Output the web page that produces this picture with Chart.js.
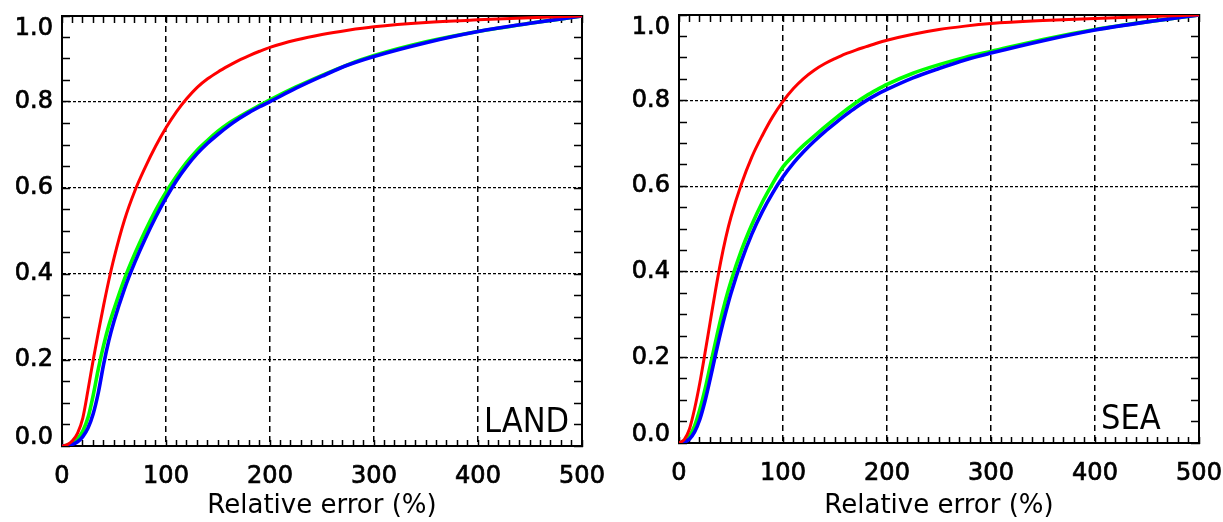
<!DOCTYPE html>
<html>
<head>
<meta charset="utf-8">
<script src="https://cdn.jsdelivr.net/npm/chart.js@4.4.1/dist/chart.umd.min.js"></script>
<style>
  html, body { margin: 0; padding: 0; background: #fff; }
  #wrap { position: relative; width: 1223px; height: 522px; }
  .panel { position: absolute; top: 0; height: 522px; }
  #land-box { left: 0; width: 611px; }
  #sea-box { left: 611px; width: 612px; }
</style>
</head>
<body>
<div id="wrap">
  <div class="panel" id="land-box"><canvas id="land-chart"></canvas></div>
  <div class="panel" id="sea-box"><canvas id="sea-chart"></canvas></div>
</div>
<script>
// relative error (%) sample points, shared by all curves
const relErr = [0, 5, 10, 15, 20, 25, 30, 35, 40, 45, 50, 60, 70, 80, 90, 100, 110, 120, 130, 140, 150, 160, 170, 180, 190, 200, 225, 250, 275, 300, 350, 400, 450, 500];

// LAND panel
const landRed   = [0, 0.003, 0.012, 0.03, 0.065, 0.13, 0.2, 0.265, 0.327, 0.385, 0.437, 0.525, 0.593, 0.648, 0.697, 0.74, 0.777, 0.808, 0.834, 0.854, 0.87, 0.884, 0.897, 0.908, 0.918, 0.927, 0.944, 0.957, 0.967, 0.975, 0.985, 0.991, 0.996, 1.0];
const landGreen = [0, 0.002, 0.007, 0.017, 0.035, 0.066, 0.118, 0.18, 0.234, 0.28, 0.318, 0.388, 0.447, 0.5, 0.548, 0.59, 0.627, 0.66, 0.688, 0.711, 0.732, 0.75, 0.765, 0.779, 0.792, 0.805, 0.835, 0.862, 0.887, 0.908, 0.94, 0.964, 0.983, 1.0];
const landBlue  = [0, 0.001, 0.004, 0.01, 0.022, 0.042, 0.075, 0.125, 0.19, 0.245, 0.29, 0.365, 0.427, 0.482, 0.532, 0.577, 0.617, 0.651, 0.68, 0.704, 0.725, 0.744, 0.761, 0.776, 0.789, 0.801, 0.832, 0.86, 0.886, 0.906, 0.938, 0.964, 0.983, 1.0];

// SEA panel
const seaRed   = [0, 0.008, 0.032, 0.08, 0.14, 0.21, 0.283, 0.355, 0.422, 0.48, 0.528, 0.605, 0.668, 0.718, 0.762, 0.798, 0.828, 0.852, 0.871, 0.886, 0.898, 0.909, 0.918, 0.926, 0.934, 0.941, 0.955, 0.966, 0.974, 0.98, 0.987, 0.992, 0.996, 1.0];
const seaGreen = [0, 0.004, 0.016, 0.04, 0.078, 0.125, 0.18, 0.235, 0.288, 0.336, 0.378, 0.45, 0.51, 0.562, 0.606, 0.645, 0.672, 0.696, 0.717, 0.738, 0.758, 0.777, 0.795, 0.811, 0.825, 0.838, 0.864, 0.884, 0.901, 0.915, 0.943, 0.966, 0.984, 1.0];
const seaBlue  = [0, 0.002, 0.009, 0.026, 0.055, 0.098, 0.15, 0.205, 0.258, 0.306, 0.35, 0.425, 0.488, 0.54, 0.584, 0.622, 0.654, 0.681, 0.705, 0.727, 0.747, 0.766, 0.784, 0.8, 0.814, 0.826, 0.853, 0.875, 0.895, 0.911, 0.94, 0.965, 0.984, 1.0];

const xTitle = "Relative error (%)";
const AXIS_FONT = "'DejaVu Sans', sans-serif";

function fixSize(size) {
    return (scale) => {
        if (scale.isHorizontal()) scale.height = size; else scale.width = size;
        scale.paddingLeft = scale.paddingRight = scale.paddingTop = scale.paddingBottom = 0;
    };
}

function minorAxis(axis, position, max, step, len) {
    return {
        type: "linear", axis: axis, position: position, min: 0, max: max, weight: 0,
        ticks: { display: false, stepSize: step },
        grid: { drawOnChartArea: false, drawTicks: true, tickLength: -len, tickColor: "#000", tickWidth: 1.5 },
        border: { display: true, color: "#000", width: 2 },
        afterFit: fixSize(0)
    };
}

function toPoints(values) {
    return values.map((v, i) => ({ x: relErr[i], y: v }));
}

const panelLabel = {
    id: "panelLabel",
    afterDraw(chart, args, opts) {
        const { ctx, chartArea } = chart;
        ctx.save();
        ctx.font = "34px 'DejaVu Sans Condensed', 'DejaVu Sans', sans-serif";
        ctx.fillStyle = "#000";
        ctx.textBaseline = "alphabetic";
        ctx.textAlign = "left";
        ctx.fillText(opts.text, chartArea.left + 422, chartArea.bottom - 14);
        ctx.restore();
    }
};

function makePanel(canvasId, label, red, green, blue, box) {
    const ctx = document.getElementById(canvasId).getContext("2d");
    return new Chart(ctx, {
        type: "line",
        data: {
            datasets: [
                { data: toPoints(red), borderColor: "#ff0000", borderWidth: 3 },
                { data: toPoints(blue), borderColor: "#0000ff", borderWidth: 3.6 },
                { data: toPoints(green), borderColor: "#00ff00", borderWidth: 3.6 }
            ]
        },
        options: {
            responsive: true,
            maintainAspectRatio: false,
            animation: false,
            layout: { padding: { top: box.top, right: box.right, left: 0, bottom: 0 } },
            elements: {
                point: { radius: 0 },
                line: { cubicInterpolationMode: "monotone", fill: false }
            },
            plugins: {
                legend: { display: false },
                tooltip: { enabled: false },
                panelLabel: { text: label }
            },
            scales: {
                x: {
                    type: "linear", position: "bottom", min: 0, max: 500, weight: 1,
                    ticks: {
                        stepSize: 100, padding: 16, color: "#000", maxRotation: 0,
                        textStrokeColor: "#000", textStrokeWidth: 0.7,
                        font: { family: AXIS_FONT, size: 24 }
                    },
                    grid: { drawTicks: false, color: "#000", lineWidth: 1.5 },
                    border: { display: true, color: "#000", width: 2, dash: [6, 4] },
                    title: { display: true, text: xTitle, color: "#000", font: { family: AXIS_FONT, size: 26 }, padding: { top: 0, bottom: 0 } },
                    afterFit: fixSize(box.xHeight)
                },
                y: {
                    type: "linear", position: "left", min: 0, max: 1, weight: 1,
                    ticks: {
                        stepSize: 0.2, padding: 9, color: "#000",
                        textStrokeColor: "#000", textStrokeWidth: 0.7,
                        callback: (v) => Math.abs(v - 1) < 1e-9 ? ["", "1.0"] : Math.abs(v) < 1e-9 ? ["0.0", ""] : v.toFixed(1),
                        font: (c) => {
                            const val = c.tick ? c.tick.value : 0.5;
                            let lh = 1.2;
                            if (Math.abs(val - 1) < 1e-9) lh = "26px";
                            if (Math.abs(val) < 1e-9) lh = "16px";
                            return { family: AXIS_FONT, size: 24, lineHeight: lh };
                        }
                    },
                    grid: { drawTicks: false, color: "#000", lineWidth: 1.3 },
                    border: { display: true, color: "#000", width: 2, dash: [3, 2] },
                    afterFit: fixSize(box.yWidth)
                },
                xBottomMinor: minorAxis("x", "bottom", 500, 10, 6),
                xTopMinor: minorAxis("x", "top", 500, 10, 7),
                yLeftMinor: minorAxis("y", "left", 1, 0.05, 8),
                yRightMinor: minorAxis("y", "right", 1, 0.05, 8)
            }
        },
        plugins: [panelLabel]
    });
}

makePanel("land-chart", "LAND", landRed, landGreen, landBlue, { top: 16, right: 29, yWidth: 62, xHeight: 76 });
makePanel("sea-chart", "SEA", seaRed, seaGreen, seaBlue, { top: 15, right: 24, yWidth: 68, xHeight: 79 });
</script>
</body>
</html>
